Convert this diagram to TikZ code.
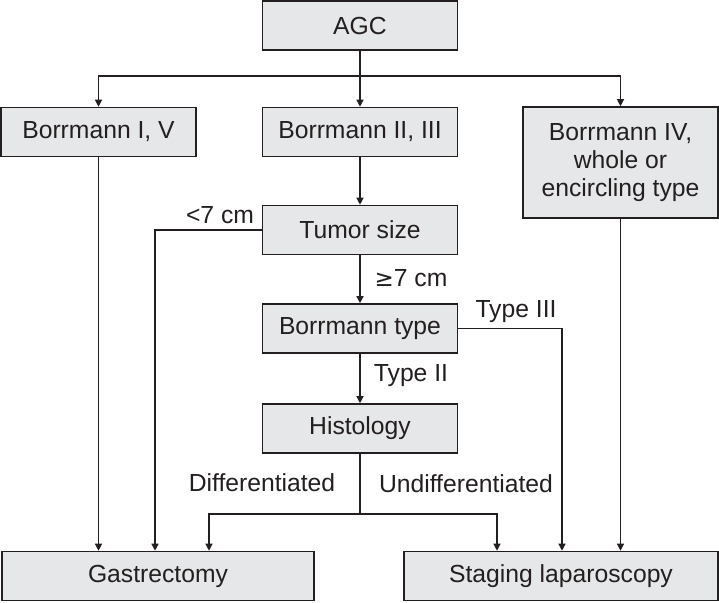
\documentclass[tikz,border=0pt]{standalone}
\usepackage{fontspec}
\setmainfont{Liberation Sans}
\usetikzlibrary{arrows.meta}
\definecolor{boxgray}{RGB}{230,231,232}
\definecolor{ink}{RGB}{35,31,32}

\begin{document}
\begin{tikzpicture}[x=0.5pt, y=-0.5pt,
    font=\fontsize{12.35}{14}\selectfont, color=ink,
    box/.style={draw=ink, fill=boxgray, line width=0.8pt, align=center,
      inner sep=0pt, minimum height=24.5pt, minimum width=97.5pt},
    lbl/.style={inner sep=0pt},
    arr/.style={-{Triangle[length=3.5pt,width=3.5pt]}},
    every path/.style={line width=0.6pt}]
            \useasboundingbox (0,0) rectangle (719,602);
            \begin{scope}
              \node[box] (agc) at (360,25.5) {AGC};
              \node[box] (b15) at (98.5,132) {Borrmann I, V};
              \node[box] (b23) at (360,132) {Borrmann II, III};
              \node[box, minimum height=55.5pt] (b4) at (620.5,162.5)
                {Borrmann IV,\\ whole or\\ encircling type};
              \node[box] (size) at (360,230) {Tumor size};
              \node[box] (btype) at (360,328.5) {Borrmann type};
              \node[box] (hist) at (360,428.5) {Histology};
              \node[box, minimum width=156pt] (gastr) at (158,576) {Gastrectomy};
              \node[box, minimum width=157pt] (stag) at (561,576) {Staging laparoscopy};
            \end{scope}
            \begin{scope}
              \node[lbl] (lt7) at (220,215) {<7 cm};
              \node[lbl] (ge7) at (411,278) {\fontspec{DejaVu Sans}\fontsize{11.5}{14}\selectfont≥\fontspec{Liberation Sans}\fontsize{12.35}{14}\selectfont7 cm};
              \node[lbl] (t3) at (516,312) {Type III};
              \node[lbl] (t2) at (411,376) {Type II};
              \node[lbl] (diff) at (262,483) {Differentiated};
              \node[lbl] (undiff) at (466,484) {Undifferentiated};
            \end{scope}
            \coordinate (s0) at (360,76);
            \coordinate (s1) at (360,514);
            \begin{scope}[arr]
              \draw[-] (agc.south) -- (s0);
              \draw (s0) -| (b15.north);
              \draw (s0) -- (b23.north);
              \draw (s0) -| (b4.north);
              \draw (b23) -- (size);
              \draw (size.west) -| ([xshift=-1.5pt]gastr.north);
              \draw (b15.south) -- (b15.south |- gastr.north);
              \draw (size) -- (btype);
              \draw (btype.east) -| ([xshift=0.5pt]stag.north);
              \draw (btype) -- (hist);
              \draw[-] (hist.south) -- (s1);
              \draw (s1) -| ([xshift=25.5pt]gastr.north);
              \draw (s1) -| ([xshift=-32pt]stag.north);
              \draw (b4.south) -- (b4.south |- stag.north);
            \end{scope}
          \end{tikzpicture}
\end{document}
